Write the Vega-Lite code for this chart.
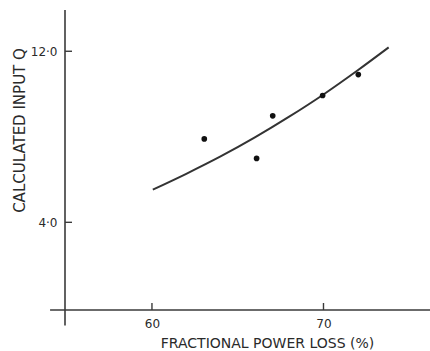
{
  "$schema": "https://vega.github.io/schema/vega-lite/v6.json",
  "width": 365,
  "height": 300,
  "autosize": {"type": "none"},
  "padding": {"left": 65, "top": 10, "right": 0, "bottom": 41},
  "background": "white",
  "config": {
    "view": {"stroke": null},
    "font": "DejaVu Sans",
    "axis": {"grid": false, "domain": false, "ticks": false, "tickSize": 0, "labelColor": "#2a2a2a", "titleColor": "#2a2a2a", "titleFontWeight": "normal", "labelFont": "DejaVu Sans", "titleFont": "DejaVu Sans"}
  },
  "datasets": {
    "points": [
      {"loss": 63.05, "q": 7.90},
      {"loss": 66.10, "q": 6.99},
      {"loss": 67.04, "q": 8.98},
      {"loss": 69.95, "q": 9.93},
      {"loss": 72.03, "q": 10.91}
    ],
    "curve": [
      {"loss": 60.05, "q": 5.53},
      {"loss": 62.0, "q": 6.27},
      {"loss": 64.0, "q": 7.08},
      {"loss": 66.0, "q": 7.97},
      {"loss": 68.0, "q": 8.94},
      {"loss": 70.0, "q": 9.98},
      {"loss": 72.0, "q": 11.11},
      {"loss": 73.8, "q": 12.18}
    ],
    "xticks": [{"v": 60}, {"v": 70}],
    "yticks": [{"v": 4}, {"v": 12}],
    "hline": [{"x1": 54.06, "x2": 76.21, "y": -0.1}],
    "vline": [{"x": 54.93, "y1": -0.82, "y2": 13.93}]
  },
  "layer": [
    {
      "data": {"name": "curve"},
      "mark": {"type": "line", "interpolate": "monotone", "color": "#333333", "strokeWidth": 2},
      "encoding": {
        "x": {
          "field": "loss", "type": "quantitative",
          "scale": {"domain": [54.93, 76.21], "nice": false, "zero": false},
          "axis": {
            "values": [60, 70],
            "labelPadding": 17,
            "labelFontSize": 12,
            "labelBaseline": "alphabetic",
            "title": "FRACTIONAL POWER LOSS (%)",
            "titleFontSize": 14,
            "titleX": 202,
            "titleY": 37,
            "titleAnchor": null,
            "titleAlign": "center",
            "titleBaseline": "alphabetic"
          }
        },
        "y": {
          "field": "q", "type": "quantitative",
          "scale": {"domain": [-0.1, 13.93], "nice": false, "zero": false},
          "axis": {
            "values": [4, 12],
            "labelPadding": 8,
            "labelFontSize": 12,
            "labelExpr": "replace(format(datum.value, '.1f'), '.', '·')",
            "title": "CALCULATED INPUT Q",
            "titleFontSize": 15,
            "titleAngle": -90,
            "titleX": -41,
            "titleY": 120,
            "titleAnchor": null,
            "titleAlign": "center",
            "titleBaseline": "alphabetic"
          }
        }
      }
    },
    {
      "data": {"name": "points"},
      "mark": {"type": "circle", "color": "#111111", "opacity": 1, "size": 32},
      "encoding": {
        "x": {"field": "loss", "type": "quantitative"},
        "y": {"field": "q", "type": "quantitative"}
      }
    },
    {
      "data": {"name": "hline"},
      "mark": {"type": "rule", "color": "#3a3a3a", "strokeWidth": 1.6},
      "encoding": {
        "x": {"field": "x1", "type": "quantitative"},
        "x2": {"field": "x2"},
        "y": {"field": "y", "type": "quantitative"}
      }
    },
    {
      "data": {"name": "vline"},
      "mark": {"type": "rule", "color": "#3a3a3a", "strokeWidth": 1.6},
      "encoding": {
        "x": {"field": "x", "type": "quantitative"},
        "y": {"field": "y1", "type": "quantitative"},
        "y2": {"field": "y2"}
      }
    },
    {
      "data": {"name": "xticks"},
      "mark": {"type": "tick", "orient": "vertical", "color": "#3a3a3a", "thickness": 1.4, "size": 7, "yOffset": -3.5, "opacity": 1},
      "encoding": {
        "x": {"field": "v", "type": "quantitative"},
        "y": {"datum": -0.1, "type": "quantitative"}
      }
    },
    {
      "data": {"name": "yticks"},
      "mark": {"type": "tick", "orient": "horizontal", "color": "#3a3a3a", "thickness": 1.4, "size": 7, "xOffset": 3.5, "opacity": 1},
      "encoding": {
        "x": {"datum": 54.93, "type": "quantitative"},
        "y": {"field": "v", "type": "quantitative"}
      }
    }
  ]
}
